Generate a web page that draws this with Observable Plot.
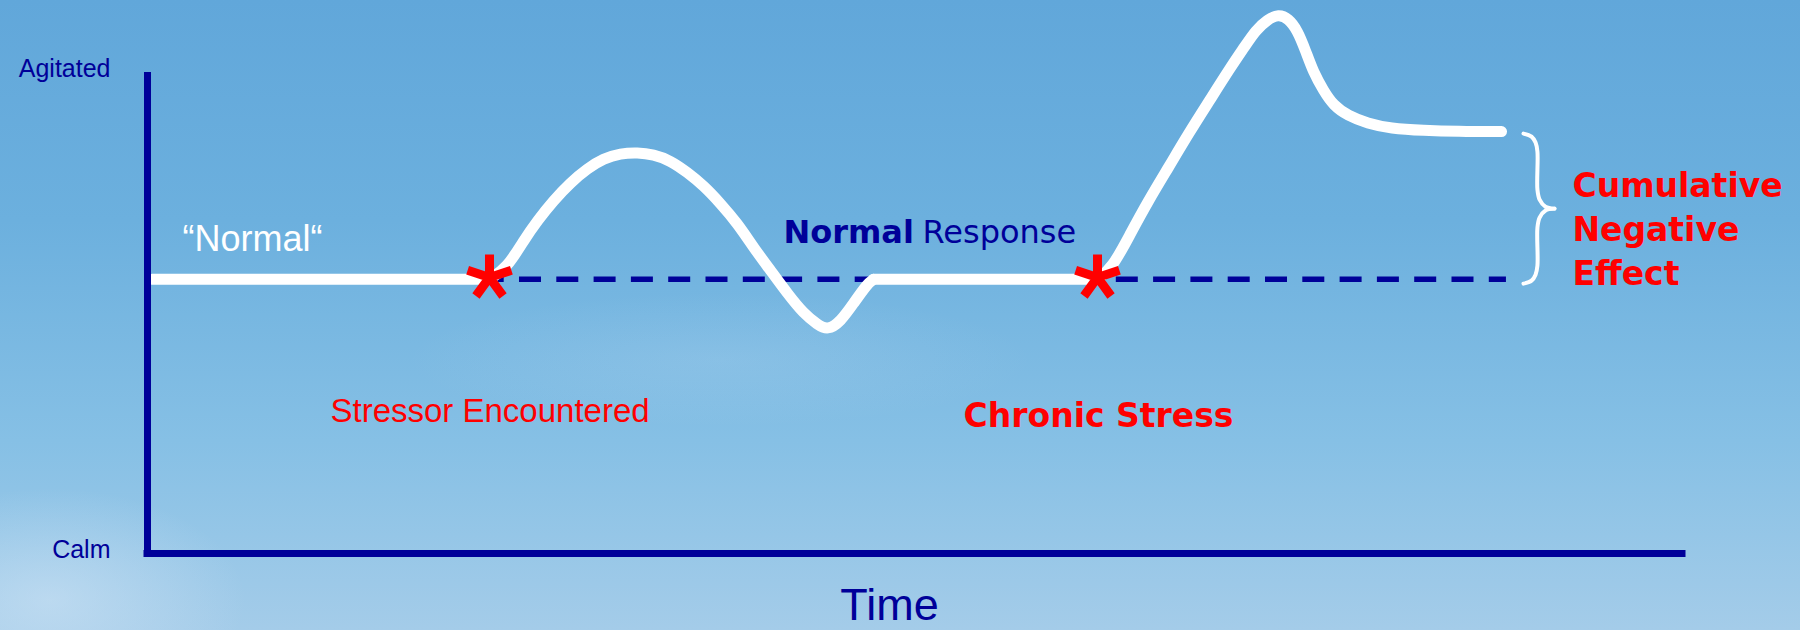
<!DOCTYPE html>
<html><head><meta charset="utf-8">
<script src="https://cdn.jsdelivr.net/npm/d3@7"></script>
<script src="https://cdn.jsdelivr.net/npm/@observablehq/plot@0.6"></script>
<style>
html,body{margin:0;padding:0;width:1800px;height:630px;overflow:hidden;}
body{background:
 radial-gradient(ellipse 280px 160px at 50px 600px, rgba(215,232,247,0.5), rgba(215,232,247,0) 70%),
 radial-gradient(ellipse 420px 90px at 720px 360px, rgba(205,226,245,0.15), rgba(205,226,245,0) 75%),
 linear-gradient(to bottom, #61a7da 0%, #6cb0de 35%, #86c0e5 70%, #a4cce9 100%);}
#chart svg{display:block;background:transparent;overflow:visible;}
</style></head><body><div id="chart"></div>
<script>
// ---- data (time 0..100 along the Time axis, level 0 = Calm .. 100 = Agitated) ----
const normalLevel = 57;
const baseline1 = [[0.3, 57], [22.28, 57]];
const response1 = [[22.28, 57], [23.45, 59.46], [24.50, 65.07], [25.41, 69.23], [26.45, 73.39],
  [27.56, 77.13], [28.66, 80.04], [29.71, 82.12], [30.81, 83.16], [31.92, 83.37], [32.96, 82.95],
  [34.07, 81.70], [35.18, 79.21], [36.22, 76.51], [37.33, 72.77], [38.44, 68.61], [39.48, 63.62],
  [40.59, 58.84], [41.69, 54.05], [42.74, 49.90], [43.65, 47.60], [44.30, 46.40], [45.15, 48.20],
  [45.99, 51.98], [46.91, 56.13], [47.30, 57]];
const baseline2 = [[47.30, 57], [61.89, 57]];
const response2 = [[61.89, 57], [62.87, 59.46], [64.04, 66.53], [65.21, 73.39], [66.51, 80.25],
  [67.82, 87.32], [69.19, 94.18], [70.55, 101.04], [71.53, 105.61], [72.18, 108.73], [72.96, 111.02],
  [73.68, 112.10], [74.33, 111.23], [74.92, 108.73], [75.44, 104.57], [75.96, 100.00], [76.61, 96.26],
  [77.26, 93.14], [78.18, 91.06], [79.48, 89.40], [80.98, 88.36], [83.13, 87.94], [85.34, 87.73],
  [88.21, 87.73]];
const stressorTimes = [22.28, 61.89];
const stressorLevel = 57.4;
const normalSpan = [22.28, 88.53];
const braceTime = 89.64;
const braceSpan = [56.1, 87.3];
const levelLabels = [{level: 100, label: "Agitated"}, {level: 0, label: "Calm"}];

// annotations (label text + anchor in data units)
const plainLabels = [{time: 11.92, level: 27.30, text: "Stressor Encountered"}];
const quoteLabel = [{time: 2.28, level: 62.79, text: "\u201CNormal\u201C"}];
const normalWord = [{time: 41.43, level: 64.59, text: "Normal"}];
const responseWord = [{time: 50.49, level: 64.59, text: "Response"}];
const boldRedLabels = [
  {time: 53.16, level: 26.40, text: "Chronic Stress"},
  {time: 92.83, level: 55.72, text: "Cumulative\nNegative\nEffect"}
];
const timeLabel = [{time: 48.34, level: -13.9, text: "Time"}];

// ---- build tables ----
const toRows = (arr, seg) => arr.map(([time, level]) => ({time, level, segment: seg}));
const curveRows = [
  ...toRows(baseline1, "b1"), ...toRows(response1, "r1"),
  ...toRows(baseline2, "b2"), ...toRows(response2, "r2")
];
const stressors = stressorTimes.map(time => ({time, level: stressorLevel}));

// curly brace geometry derived from its span
const bw = 2.02;
const bxf = [0, .26, .39, .45, .45, .52, .71, 1];
const byf = [0, .02, .06, .12, .373, .44, .487, .5];
const [b0, b1] = braceSpan, bh = b1 - b0;
const braceRows = [
  ...bxf.map((f, i) => ({time: braceTime + f * bw, level: b1 - byf[i] * bh, half: "top"})),
  ...bxf.map((f, i) => ({time: braceTime + f * bw, level: b0 + byf[i] * bh, half: "bottom"}))
];

// five-armed asterisk symbol
const asterisk5 = {
  draw(context, size) {
    const r = Math.sqrt(size / Math.PI);
    for (let i = 0; i < 5; ++i) {
      const a = -Math.PI / 2 + i * 2 * Math.PI / 5;
      context.moveTo(0, 0);
      context.lineTo(r * Math.cos(a), r * Math.sin(a));
    }
  }
};

const NAVY = "#000099", RED = "#ff0000";
const ARIAL = "'Liberation Sans', Arial, sans-serif";
const TAHOMA = "'DejaVu Sans', Verdana, sans-serif";

const chart = Plot.plot({
  width: 1800, height: 630,
  marginLeft: 147, marginRight: 118, marginTop: 72, marginBottom: 77,
  x: {domain: [0, 100], axis: null},
  y: {domain: [0, 100], axis: null},
  style: {background: "transparent", overflow: "visible"},
  marks: [
    Plot.ruleY([normalLevel], {x1: normalSpan[0], x2: normalSpan[1], stroke: NAVY, strokeWidth: 5.5,
      strokeDasharray: "22,15.3", strokeDashoffset: 7.3}),
    Plot.line(curveRows, {x: "time", y: "level", z: "segment", stroke: "white", strokeWidth: 11,
      curve: "basis", strokeLinecap: "round", strokeLinejoin: "round"}),
    Plot.line(braceRows, {x: "time", y: "level", z: "half", stroke: "white", strokeWidth: 4,
      curve: "catmull-rom", strokeLinecap: "round"}),
    Plot.ruleX([0], {y1: 0, y2: 100, stroke: NAVY, strokeWidth: 7}),
    Plot.ruleY([0], {x1: 0, x2: 100, stroke: NAVY, strokeWidth: 7, strokeLinecap: "square"}),
    Plot.dot(stressors, {x: "time", y: "level", symbol: asterisk5, r: 23, stroke: RED, strokeWidth: 9, fill: "none"}),
    Plot.text(levelLabels, {x: () => 0, y: "level", text: "label", textAnchor: "end", dx: -37, dy: -4,
      fontFamily: ARIAL, fontSize: 25, fill: NAVY}),
    Plot.text(quoteLabel, {x: "time", y: "level", text: "text", textAnchor: "start", lineAnchor: "bottom",
      fontFamily: ARIAL, fontSize: 36, fill: "white"}),
    Plot.text(plainLabels, {x: "time", y: "level", text: "text", textAnchor: "start", lineAnchor: "bottom",
      fontFamily: ARIAL, fontSize: 33, fill: RED}),
    Plot.text(normalWord, {x: "time", y: "level", text: "text", textAnchor: "start", lineAnchor: "bottom",
      fontFamily: TAHOMA, fontSize: 32, fontWeight: "bold", fill: NAVY}),
    Plot.text(responseWord, {x: "time", y: "level", text: "text", textAnchor: "start", lineAnchor: "bottom",
      fontFamily: TAHOMA, fontSize: 32, fill: NAVY}),
    Plot.text(boldRedLabels, {x: "time", y: "level", text: "text", textAnchor: "start", lineAnchor: "bottom",
      lineHeight: 1.34, fontFamily: TAHOMA, fontSize: 33, fontWeight: "bold", fill: RED}),
    Plot.text(timeLabel, {x: "time", y: "level", text: "text", textAnchor: "middle", lineAnchor: "bottom",
      fontFamily: ARIAL, fontSize: 45, fill: NAVY})
  ]
});
document.getElementById("chart").append(chart);
</script></body></html>
